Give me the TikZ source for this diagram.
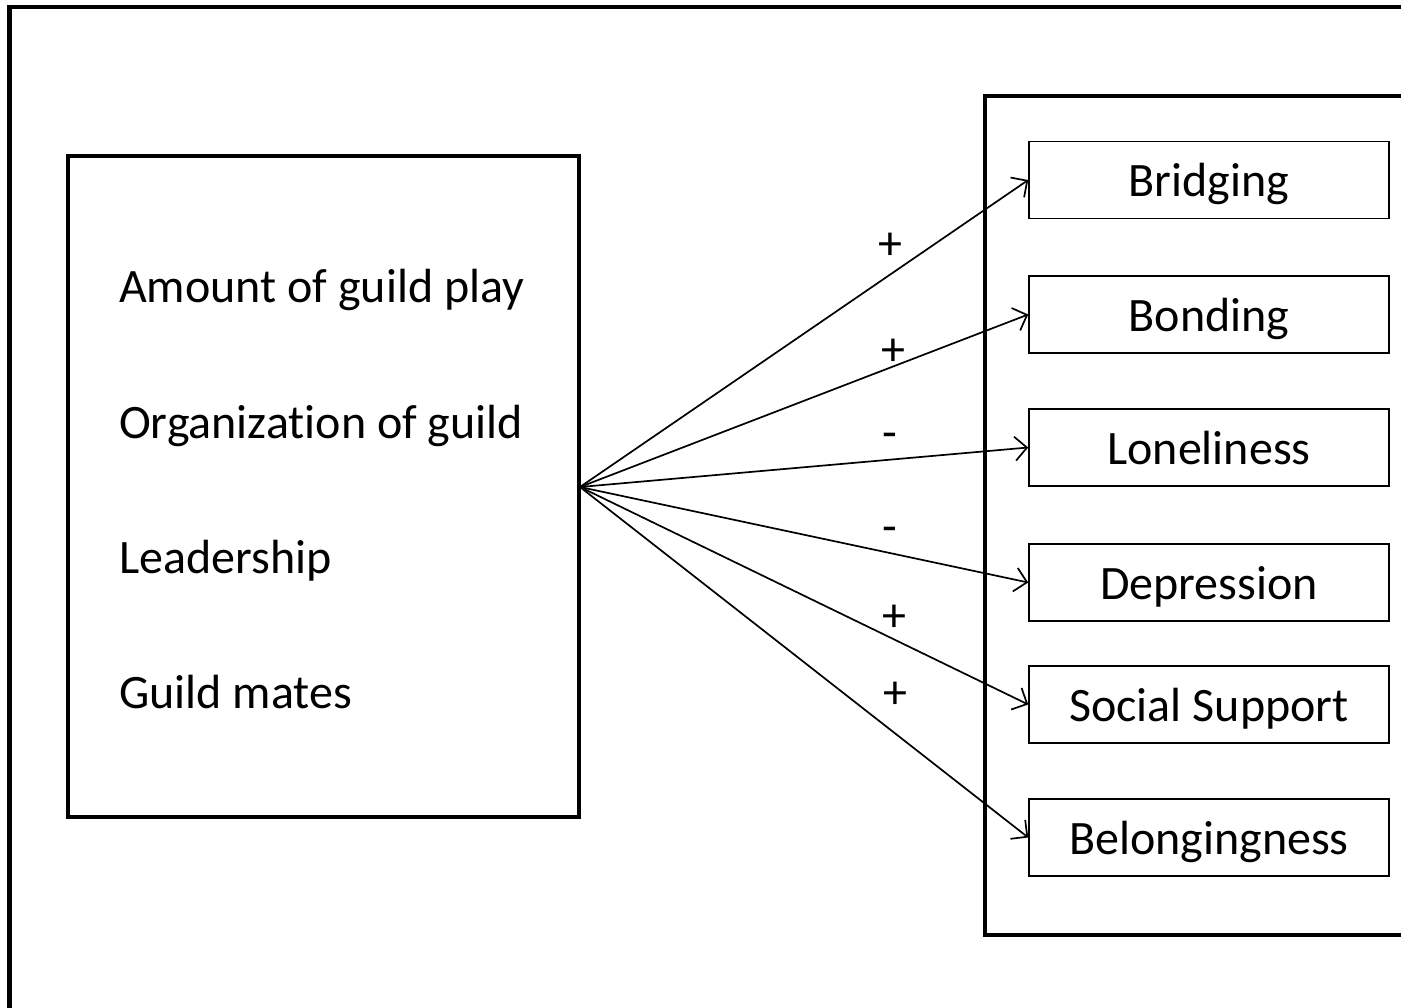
\documentclass[tikz,border=0pt]{standalone}
\usepackage{fontspec}
\setmainfont{Carlito}[Ligatures=NoCommon]
\usetikzlibrary{arrows.meta}
\begin{document}
\begin{tikzpicture}[x=1pt,y=-1pt,
  frame/.style={line width=4.5pt},
  outbox/.style={draw,line width=1.6pt,minimum width=360pt,minimum height=77pt,inner sep=0pt,text height=36pt,text depth=2pt,font=\fontsize{48}{58}\selectfont},
  lefttext/.style={anchor=base west,inner sep=0pt,font=\fontsize{48}{58}\selectfont},
  sign/.style={inner sep=0pt,font=\fontsize{48}{58}\selectfont},
  conn/.style={line width=1.7pt,-{Straight Barb[length=12pt,width=24pt,line width=1.7pt]}}]
\useasboundingbox (0,0) rectangle (1401,1008);
\begin{scope}
\clip (0,0) rectangle (1401,1008);
\draw[frame] (9.5,1100) -- (9.5,7) -- (1500,7);
\draw[frame] (1500,96) -- (985,96) -- (985,935) -- (1500,935);
\end{scope}
\draw[line width=3.5pt] (68,156) rectangle (579,817);
\coordinate (src) at (580,487);
\node[lefttext] (t1) at (119,303) {Amount of guild play};
\node[lefttext] (t2) at (119,438) {Organization of guild};
\node[lefttext] (t3) at (119,573) {Leadership};
\node[lefttext] (t4) at (119,708) {Guild mates};
\node[outbox] (b1) at (1209,180) {Bridging};
\node[outbox] (b2) at (1209,314.5) {Bonding};
\node[outbox] (b3) at (1209,447.5) {Loneliness};
\node[outbox] (b4) at (1209,582.5) {Depression};
\node[outbox] (b5) at (1209,704.5) {Social Support};
\node[outbox] (b6) at (1209,837.5) {Belongingness};
\draw[conn] (src) -- (b1.west);
\draw[conn] (src) -- (b2.west);
\draw[conn] (src) -- (b3.west);
\draw[conn] (src) -- (b4.west);
\draw[conn] (src) -- (b5.west);
\draw[conn] (src) -- (b6.west);
\node[sign] (s1) at (890,246) {+};
\node[sign] (s2) at (893,352) {+};
\node[sign] (s3) at (890,441) {-};
\node[sign] (s4) at (890,535) {-};
\node[sign] (s5) at (894,618) {+};
\node[sign] (s6) at (895,695) {+};
\end{tikzpicture}
\end{document}
